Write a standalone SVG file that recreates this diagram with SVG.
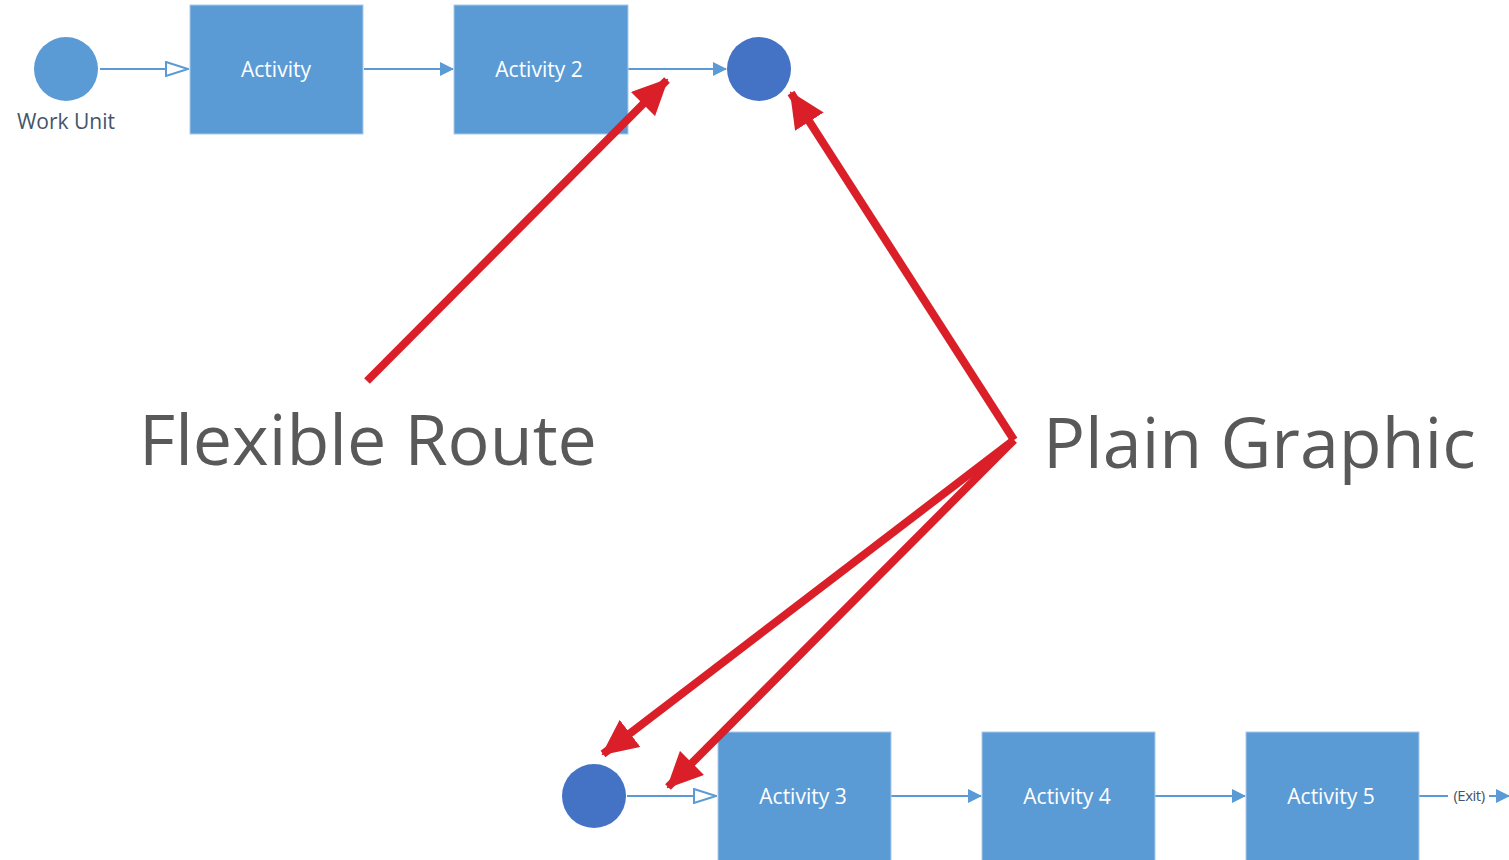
<svg xmlns="http://www.w3.org/2000/svg" width="1509" height="860" viewBox="0 0 1509 860">
<style>
.box{fill:#5b9bd5;stroke:#a9c9ea;stroke-width:1}
.lbl{font-family:"Open Sans","Noto Sans",sans-serif;font-size:21px;fill:#ffffff;text-anchor:middle;dominant-baseline:central}
.dark{font-family:"Open Sans","Noto Sans",sans-serif;font-size:21px;fill:#44546a;text-anchor:middle;dominant-baseline:central}
.big{font-family:"Open Sans","Noto Sans",sans-serif;font-size:70px;fill:#595959}
.conn{stroke:#5b9bd5;stroke-width:2;fill:none}
.red{stroke:#da1f28;stroke-width:8;fill:none}
</style>
<defs>
<marker id="open" viewBox="0 0 24 16" refX="23" refY="8" markerWidth="24" markerHeight="16" markerUnits="userSpaceOnUse" orient="auto">
<path d="M1,1 L23,8 L1,15 z" fill="#ffffff" stroke="#5b9bd5" stroke-width="2"/>
</marker>
<marker id="fill" viewBox="0 0 14 14" refX="13" refY="7" markerWidth="14" markerHeight="14" markerUnits="userSpaceOnUse" orient="auto">
<path d="M0,0 L14,7 L0,14 z" fill="#5b9bd5"/>
</marker>
<marker id="redhead" viewBox="0 0 36 34" refX="34" refY="17" markerWidth="36" markerHeight="34" markerUnits="userSpaceOnUse" orient="auto">
<path d="M0,0 L36,17 L0,34 z" fill="#da1f28"/>
</marker>
</defs>
<g id="connectors">
<line class="conn" x1="100" y1="69" x2="188" y2="69" marker-end="url(#open)"/>
<line class="conn" x1="364" y1="69" x2="453" y2="69" marker-end="url(#fill)"/>
<line class="conn" x1="628" y1="69" x2="726" y2="69" marker-end="url(#fill)"/>
<line class="conn" x1="627" y1="796" x2="716" y2="796" marker-end="url(#open)"/>
<line class="conn" x1="891" y1="796" x2="981" y2="796" marker-end="url(#fill)"/>
<line class="conn" x1="1155" y1="796" x2="1245" y2="796" marker-end="url(#fill)"/>
<line class="conn" x1="1419" y1="796" x2="1448" y2="796"/>
<line class="conn" x1="1489" y1="796" x2="1509" y2="796" marker-end="url(#fill)"/>
<text class="dark" x="1469" y="795" style="font-size:15px;letter-spacing:-0.5px">(Exit)</text>
</g>
<g id="work-unit">
<circle cx="66" cy="69" r="32" fill="#5b9bd5"/>
<text class="dark" x="66" y="121">Work Unit</text>
</g>
<g id="activity"><rect class="box" x="190" y="5" width="173" height="129"/><text class="lbl" x="276" y="69">Activity</text></g>
<g id="activity-2"><rect class="box" x="454" y="5" width="174" height="129"/><text class="lbl" x="539" y="69">Activity 2</text></g>
<g id="end-top"><circle cx="759" cy="69" r="32" fill="#4472c4"/></g>
<g id="start-bottom"><circle cx="594" cy="796" r="32" fill="#4472c4"/></g>
<g id="activity-3"><rect class="box" x="718" y="732" width="173" height="140"/><text class="lbl" x="803" y="796">Activity 3</text></g>
<g id="activity-4"><rect class="box" x="982" y="732" width="173" height="140"/><text class="lbl" x="1067" y="796">Activity 4</text></g>
<g id="activity-5"><rect class="box" x="1246" y="732" width="173" height="140"/><text class="lbl" x="1331" y="796">Activity 5</text></g>
<g id="callouts">
<line class="red" x1="367" y1="381" x2="667" y2="80" marker-end="url(#redhead)"/>
<line class="red" x1="1014" y1="440" x2="791" y2="93" marker-end="url(#redhead)"/>
<line class="red" x1="1014" y1="440" x2="603" y2="754" marker-end="url(#redhead)"/>
<line class="red" x1="1014" y1="440" x2="668" y2="787" marker-end="url(#redhead)"/>
<text id="flexible-route" class="big" x="139" y="465">Flexible Route</text>
<text id="plain-graphic" class="big" x="1043" y="468">Plain Graphic</text>
</g>
</svg>
